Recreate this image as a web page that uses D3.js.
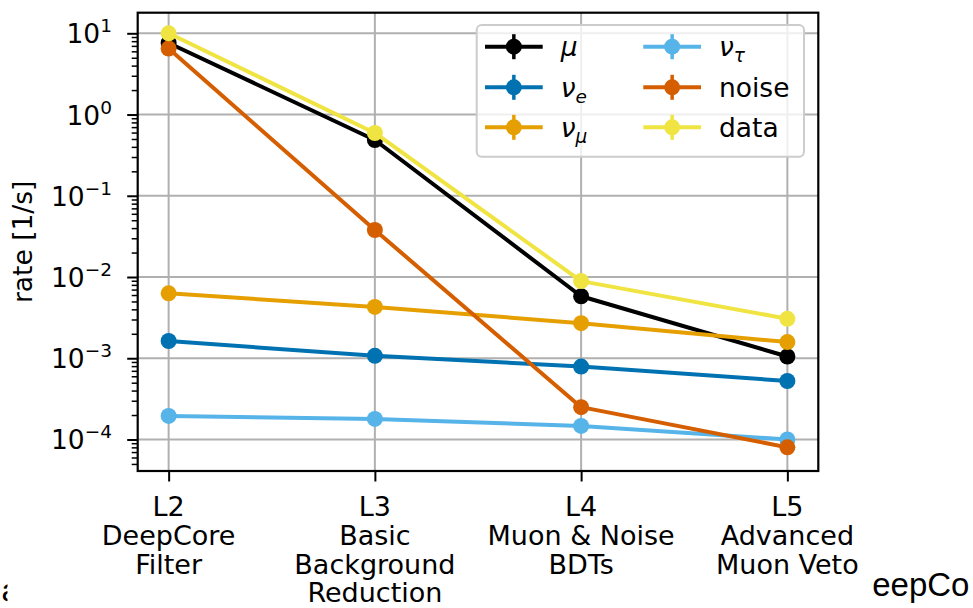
<!DOCTYPE html>
<html><head><meta charset="utf-8">
<script src="https://cdn.jsdelivr.net/npm/d3@7"></script>
<style>
body{margin:0;background:#fff;overflow:hidden}
svg{display:block}
.dv{font-family:"DejaVu Sans",sans-serif}
.ar{font-family:"Liberation Sans",Arial,sans-serif}
</style>
</head><body><svg id="c" width="973" height="608"></svg>
<script>
// ---------- data ----------
const categories = ["L2", "L3", "L4", "L5"];
const categoryDescriptions = [["DeepCore", "Filter"], ["Basic", "Background", "Reduction"], ["Muon & Noise", "BDTs"], ["Advanced", "Muon Veto"]];
const seriesKeys = ["mu", "nue", "numu", "nutau", "noise", "data"];
const muRate    = [7.6, 0.486, 5.8e-3, 1.05e-3];
const nueRate   = [1.63e-3, 1.07e-3, 7.9e-4, 5.25e-4];
const numuRate  = [6.3e-3, 4.28e-3, 2.7e-3, 1.58e-3];
const nutauRate = [1.95e-4, 1.79e-4, 1.47e-4, 1.0e-4];
const noiseRate = [6.5, 0.0379, 2.5e-4, 8.0e-5];
const dataRate  = [10.0, 0.593, 8.9e-3, 3.06e-3];
const legendBase = ["μ", "ν", "ν", "ν", "noise", "data"];
const legendSub  = ["", "e", "μ", "τ", "", ""];
const yTickExponents = [1, 0, -1, -2, -3, -4];
const yLabel = "rate [1/s]";

// ---------- styles ----------
const seriesColors = ["#000000", "#0072B2", "#E69F00", "#56B4E9", "#D55E00", "#F0E442"];
const seriesValues = [muRate, nueRate, numuRate, nutauRate, noiseRate, dataRate];

const svg = d3.select("#c");

// background page text partially hidden behind the figure
svg.append("text").attr("class", "ar").attr("x", 1.5).attr("y", 601)
  .attr("font-size", 32).attr("fill", "#000").text("a");
svg.append("text").attr("class", "ar").attr("x", 848.4).attr("y", 596)
  .attr("font-size", 33).attr("fill", "#000").text("DeepCo");
svg.append("rect").attr("x", 7.5).attr("y", 0).attr("width", 863.5).attr("height", 608).attr("fill", "#fff");

const L = 137.7, R = 818.3, T = 12.7, B = 471;
const x = d3.scaleLinear().domain([-0.15, 3.15]).range([L, R]);
const y = d3.scaleLog().domain([Math.pow(10, -4.388), Math.pow(10, 1.2536)]).range([B, T]);

const g = svg.append("g");

// grid
const decades = yTickExponents.map(e => Math.pow(10, e));
g.append("g").selectAll("line").data(decades).join("line")
  .attr("x1", L).attr("x2", R).attr("y1", d => y(d)).attr("y2", d => y(d))
  .attr("stroke", "#b0b0b0").attr("stroke-width", 2);
g.append("g").selectAll("line").data(categories).join("line")
  .attr("x1", (d, i) => x(i)).attr("x2", (d, i) => x(i)).attr("y1", T).attr("y2", B)
  .attr("stroke", "#b0b0b0").attr("stroke-width", 2);

// minor ticks
const minors = [];
for (let e = -5; e <= 1; e++) for (let m = 2; m <= 9; m++) {
  const v = m * Math.pow(10, e);
  if (v >= y.domain()[0] && v <= y.domain()[1]) minors.push(v);
}
const minorAxis = d3.axisLeft(y).tickValues(minors).tickSize(6).tickFormat("");
const gm = g.append("g").attr("transform", `translate(${L},0)`).call(minorAxis);
gm.select(".domain").remove();
gm.selectAll(".tick line").attr("stroke", "#000").attr("stroke-width", 1.5);

const majorAxis = d3.axisLeft(y).tickValues(decades).tickSize(10.5).tickFormat("");
const gM = g.append("g").attr("transform", `translate(${L},0)`).call(majorAxis);
gM.select(".domain").remove();
gM.selectAll(".tick line").attr("stroke", "#000").attr("stroke-width", 2);

// y tick labels
yTickExponents.forEach(e => {
  const t = g.append("text").attr("class", "dv").attr("x", 112).attr("y", y(Math.pow(10, e)) + 10)
    .attr("text-anchor", "end").attr("font-size", 26.5).attr("fill", "#000");
  t.append("tspan").text("10");
  t.append("tspan").attr("dy", -11).attr("font-size", 18.5).text(e < 0 ? "\u2212" + Math.abs(e) : String(e));
});

// x axis ticks
const xAxis = d3.axisBottom(x).tickValues([0, 1, 2, 3]).tickSize(10.5).tickFormat("");
const gx = g.append("g").attr("transform", `translate(0,${B})`).call(xAxis);
gx.select(".domain").remove();
gx.selectAll(".tick line").attr("stroke", "#000").attr("stroke-width", 2);

// x labels
const lineY = [516, 545, 573.5, 602];
categories.forEach((c, i) => {
  const lines = [c].concat(categoryDescriptions[i]);
  lines.forEach((s, j) => {
    g.append("text").attr("class", "dv").attr("x", x(i)).attr("y", lineY[j])
      .attr("text-anchor", "middle").attr("font-size", 27).attr("fill", "#000").text(s);
  });
});

// y label
g.append("text").attr("class", "dv").attr("transform", `translate(32,${(T + B) / 2}) rotate(-90)`)
  .attr("text-anchor", "middle").attr("font-size", 26.5).attr("fill", "#000").text(yLabel);

// series
const line = d3.line().x((d, i) => x(i)).y(d => y(d));
seriesValues.forEach((vals, k) => {
  const sg = g.append("g");
  sg.append("path").attr("d", line(vals)).attr("fill", "none")
    .attr("stroke", seriesColors[k]).attr("stroke-width", 4).attr("stroke-linejoin", "round");
  sg.selectAll("circle").data(vals).join("circle")
    .attr("cx", (d, i) => x(i)).attr("cy", d => y(d)).attr("r", 8).attr("fill", seriesColors[k]);
});

// frame
g.append("rect").attr("x", L).attr("y", T).attr("width", R - L).attr("height", B - T)
  .attr("fill", "none").attr("stroke", "#000").attr("stroke-width", 2.2);

// legend
const lg = g.append("g");
lg.append("rect").attr("x", 476.7).attr("y", 25).attr("width", 327.3).attr("height", 131.7)
  .attr("rx", 5).attr("fill", "#fff").attr("fill-opacity", 0.8).attr("stroke", "#cccccc").attr("stroke-width", 2);
const colX = [485, 643.3], rowY = [46.7, 87.3, 127.3], hw = 57.7, textDX = 75.7;
seriesKeys.forEach((key, k) => {
  const col = Math.floor(k / 3), row = k % 3;
  const x0 = colX[col], yy = rowY[row], xm = x0 + hw / 2;
  lg.append("line").attr("x1", x0).attr("x2", x0 + hw).attr("y1", yy).attr("y2", yy)
    .attr("stroke", seriesColors[k]).attr("stroke-width", 4);
  lg.append("line").attr("x1", xm).attr("x2", xm).attr("y1", yy - 12.5).attr("y2", yy + 12.5)
    .attr("stroke", seriesColors[k]).attr("stroke-width", 3.5);
  lg.append("circle").attr("cx", xm).attr("cy", yy).attr("r", 8).attr("fill", seriesColors[k]);
  const t = lg.append("text").attr("class", "dv").attr("x", x0 + textDX).attr("y", yy + 9.5)
    .attr("font-size", 26.5).attr("fill", "#000");
  const isMath = legendSub[k] !== "" || legendBase[k] === "μ";
  t.append("tspan").attr("font-style", isMath ? "italic" : "normal").text(legendBase[k]);
  if (legendSub[k]) t.append("tspan").attr("font-style", "italic").attr("font-size", 18.5).attr("dy", 6).text(legendSub[k]);
});
</script>
</body></html>
